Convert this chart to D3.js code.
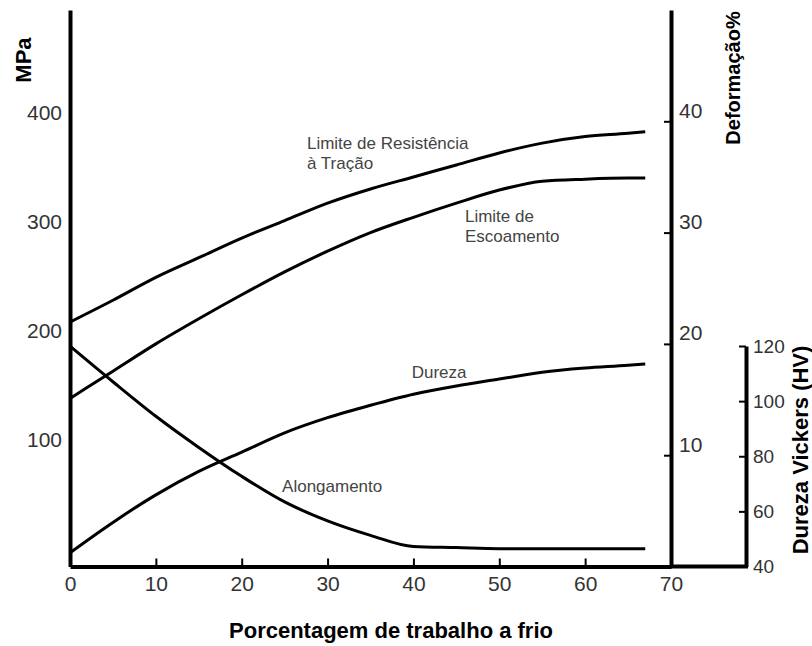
<!DOCTYPE html>
<html>
<head>
<meta charset="utf-8">
<script src="https://cdn.jsdelivr.net/npm/d3@7"></script>
<style>
  body { margin: 0; background: #fff; }
  svg text { font-family: "Liberation Sans", Arial, sans-serif; }
</style>
</head>
<body>
<div id="graph"></div>
<script>
// cold work (%) and the four curves
var coldWork   = [0, 5, 10, 15, 20, 25, 30, 35, 40, 45, 50, 55, 60, 65, 67];
var tensileMPa = [208, 228, 249, 267, 285, 301, 317, 330, 341, 352, 363, 372, 378, 381, 382.5];
var yieldMPa   = [138, 163, 188, 211, 233, 254, 273, 290, 304, 317, 329, 337, 339, 340, 340];
var hardnessHV = [45, 56, 66, 74.5, 81.5, 88.5, 94, 98.5, 102.5, 105.5, 108, 110.5, 112, 113, 113.5];
var elongPct   = [19.8, 16.6, 13.5, 10.7, 8.1, 5.8, 4.1, 2.8, 1.8, 1.7, 1.6, 1.6, 1.6, 1.6, 1.6];

var xTicks   = [0, 10, 20, 30, 40, 50, 60, 70];
var mpaTicks = [100, 200, 300, 400];
var defTicks = [10, 20, 30, 40];
var hvTicks  = [40, 60, 80, 100, 120];

// curve labels, anchored in data units of their own axis
var annotations = [
  { lines: ["Limite de Resistência", "à Tração"], x: 27.6, v: 372, axis: "mpa" },
  { lines: ["Limite de", "Escoamento"],           x: 46.0, v: 305, axis: "mpa" },
  { lines: ["Dureza"],                            x: 39.8, v: 110.5, axis: "hv" },
  { lines: ["Alongamento"],                       x: 24.7, v: 7.2, axis: "def" }
];

var W = 812, H = 646;
var svg = d3.select("#graph").append("svg")
  .attr("width", W).attr("height", H);

var x    = d3.scaleLinear().domain([0, 70]).range([70, 671]);
var yMPa = d3.scaleLinear().domain([-16, 494]).range([566.5, 10]);
var yDef = d3.scaleLinear().domain([0, 50]).range([566.5, 10]);
var yHV  = d3.scaleLinear().domain([40, 120]).range([566.5, 346]);
var hvX  = 746;
var scaleFor = { mpa: yMPa, def: yDef, hv: yHV };

// curves
var series = [
  { vals: tensileMPa, y: yMPa },
  { vals: yieldMPa,   y: yMPa },
  { vals: hardnessHV, y: yHV },
  { vals: elongPct,   y: yDef }
];
series.forEach(function(s) {
  var line = d3.line()
    .curve(d3.curveMonotoneX)
    .x(function(d, i) { return x(coldWork[i]); })
    .y(function(d) { return s.y(d); });
  svg.append("path")
    .datum(s.vals)
    .attr("fill", "none")
    .attr("stroke", "#000")
    .attr("stroke-width", 3)
    .attr("d", line);
});

function styleAxis(g, fontSize) {
  g.select(".domain").attr("stroke-width", 4).attr("stroke", "#000");
  g.selectAll(".tick line").attr("stroke-width", 2).attr("stroke", "#000");
  g.selectAll(".tick text")
    .attr("fill", "#333")
    .style("font-size", fontSize + "px")
    .style("font-family", '"Liberation Sans", Arial, sans-serif');
}

// left MPa axis (no ticks)
var leftG = svg.append("g").attr("transform", "translate(70,0)")
  .call(d3.axisLeft(yMPa).tickValues(mpaTicks).tickSize(0).tickPadding(8));
styleAxis(leftG, 21);

// bottom axis, ticks pointing up
var bottomG = svg.append("g").attr("transform", "translate(0,566.5)")
  .call(d3.axisBottom(x).tickValues(xTicks).tickSizeInner(-8).tickSizeOuter(0).tickPadding(10));
styleAxis(bottomG, 21);
bottomG.selectAll(".tick line").filter(function(d) { return d === 0 || d === 70; }).remove();

// bottom line continues under the hardness axis
svg.append("line")
  .attr("x1", x(70)).attr("x2", hvX + 2)
  .attr("y1", 566.5).attr("y2", 566.5)
  .attr("stroke", "#000").attr("stroke-width", 4);

// right Deformação axis
var defG = svg.append("g").attr("transform", "translate(" + x(70) + ",0)")
  .call(d3.axisRight(yDef).tickValues(defTicks).tickSizeInner(-7).tickSizeOuter(0).tickPadding(8));
styleAxis(defG, 21);
defG.selectAll(".tick text").attr("dy", "-0.2em");

// hardness axis
var hvG = svg.append("g").attr("transform", "translate(" + hvX + ",0)")
  .call(d3.axisRight(yHV).tickValues(hvTicks).tickSizeInner(-7).tickSizeOuter(0).tickPadding(7));
styleAxis(hvG, 19);

// axis titles
svg.append("text")
  .attr("transform", "translate(23,60) rotate(-90)")
  .attr("text-anchor", "middle").attr("dominant-baseline", "central")
  .style("font-size", "22px").style("font-weight", "bold")
  .text("MPa");

svg.append("text")
  .attr("transform", "translate(733,78) rotate(-90)")
  .attr("text-anchor", "middle").attr("dominant-baseline", "central")
  .style("font-size", "20px").style("font-weight", "bold")
  .text("Deformação%");

svg.append("text")
  .attr("transform", "translate(800,450) rotate(-90)")
  .attr("text-anchor", "middle").attr("dominant-baseline", "central")
  .style("font-size", "22px").style("font-weight", "bold")
  .text("Dureza Vickers (HV)");

svg.append("text")
  .attr("x", 391).attr("y", 638)
  .attr("text-anchor", "middle")
  .style("font-size", "22px").style("font-weight", "bold")
  .text("Porcentagem de trabalho a frio");

// curve labels
annotations.forEach(function(a) {
  var t = svg.append("text")
    .attr("x", x(a.x))
    .attr("y", scaleFor[a.axis](a.v))
    .attr("fill", "#444")
    .style("font-size", "17px");
  a.lines.forEach(function(s, i) {
    t.append("tspan")
      .attr("x", x(a.x))
      .attr("dy", i === 0 ? "0.35em" : "20px")
      .text(s);
  });
});
</script>
</body>
</html>
